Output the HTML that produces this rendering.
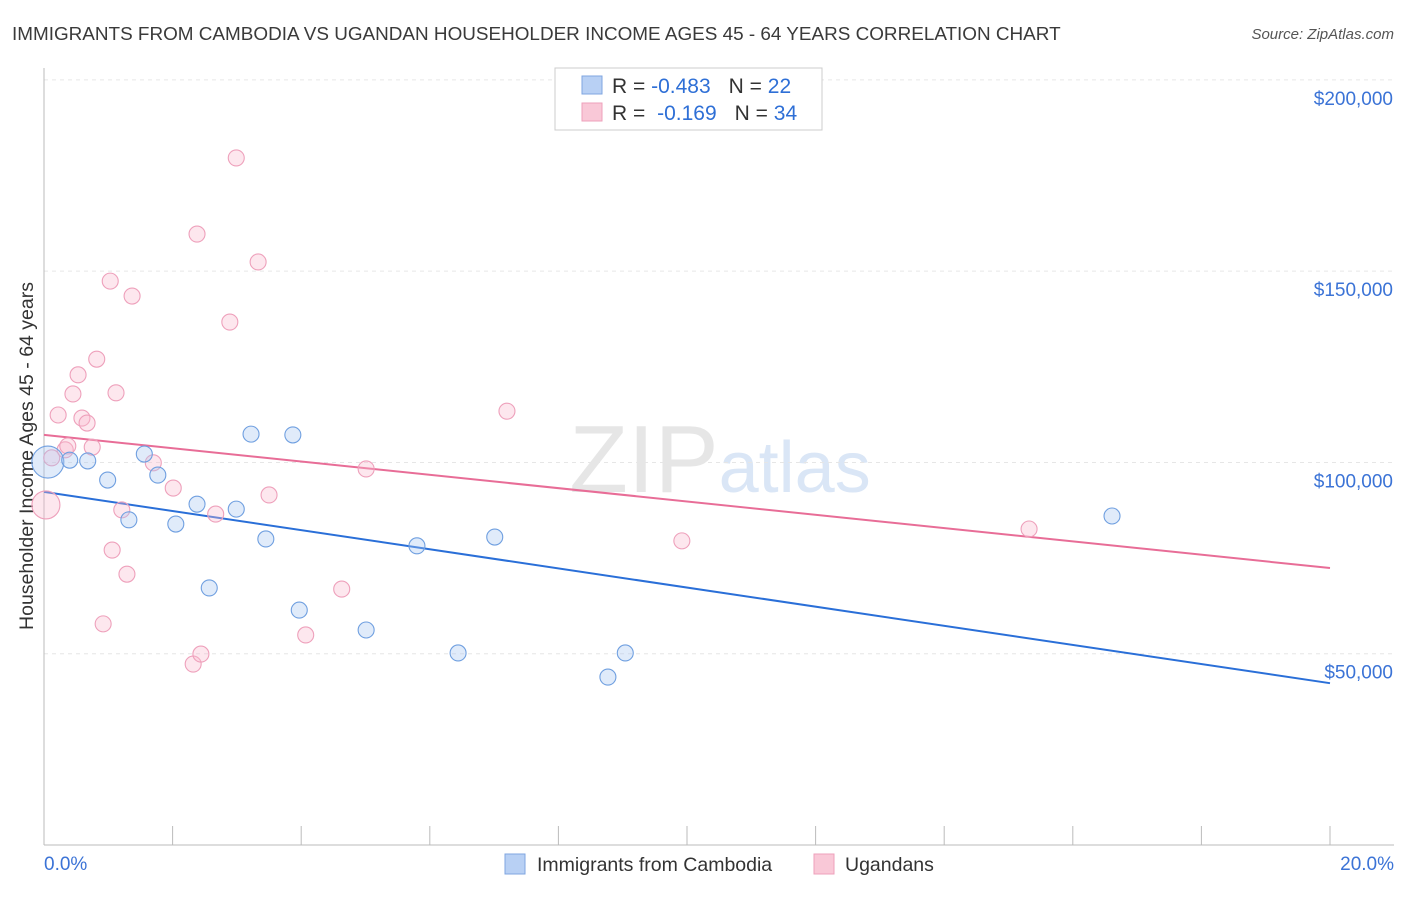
<!DOCTYPE html>
<html><head><meta charset="utf-8"><style>
body{margin:0;background:#fff;font-family:"Liberation Sans",sans-serif;}
svg text{font-family:"Liberation Sans",sans-serif;}
</style></head><body>
<svg id="chart" width="1406" height="892">
<text x="12" y="40" font-size="18.9" fill="#3a3a3a">IMMIGRANTS FROM CAMBODIA VS UGANDAN HOUSEHOLDER INCOME AGES 45 - 64 YEARS CORRELATION CHART</text>
<text x="1394" y="39" font-size="15" fill="#555" text-anchor="end" font-style="italic">Source: ZipAtlas.com</text>
<text x="33" y="456" font-size="19.5" fill="#333" text-anchor="middle" transform="rotate(-90 33 456)">Householder Income Ages 45 - 64 years</text>
<text x="720" y="492" font-size="96" fill="#e6e6e6" text-anchor="middle" font-family="Liberation Serif">ZIP<tspan fill="#dae6f6" font-family="Liberation Sans" font-size="72">atlas</tspan></text>
<g id="grid"></g><g id="axes"></g><g id="lines"></g><g id="points"></g>
<g>
<rect x="555" y="68" width="267" height="62" fill="#fff" stroke="#ccc"/>
<rect x="582" y="76" width="20" height="18" fill="#b8d0f4" stroke="#7fa6e0"/>
<text x="612" y="93" font-size="21" fill="#333">R = <tspan fill="#2e6fd6">-0.483</tspan><tspan dx="18">N = </tspan><tspan fill="#2e6fd6">22</tspan></text>
<rect x="582" y="103" width="20" height="18" fill="#f9c8d7" stroke="#eea0bb"/>
<text x="612" y="120" font-size="21" fill="#333">R = <tspan dx="6" fill="#2e6fd6">-0.169</tspan><tspan dx="18">N = </tspan><tspan fill="#2e6fd6">34</tspan></text>
</g>
<g>
<rect x="505" y="854" width="20" height="20" fill="#b8d0f4" stroke="#7fa6e0"/>
<text x="537" y="871" font-size="19.5" fill="#333">Immigrants from Cambodia</text>
<rect x="814" y="854" width="20" height="20" fill="#f9c8d7" stroke="#eea0bb"/>
<text x="845" y="871" font-size="19.5" fill="#333">Ugandans</text>
</g>
</svg>
<script>
const yTicks=[50000,100000,150000,200000];
const yTickLabels=["$50,000","$100,000","$150,000","$200,000"];
const xTicks=[0,2,4,6,8,10,12,14,16,18,20];
const blueX=[0.06,0.40,0.68,0.99,1.32,1.56,1.77,2.05,2.38,2.57,2.99,3.22,3.45,3.87,3.97,5.01,5.80,6.44,7.01,8.77,9.04,16.61];
const blueY=[100100,100600,100400,95400,85000,102200,96700,83900,89100,67200,87800,107400,80000,107200,61400,56200,78200,50200,80500,43900,50200,86000];
const pinkX=[0.03,0.12,0.22,0.33,0.37,0.45,0.53,0.59,0.67,0.75,0.82,0.92,1.03,1.06,1.12,1.21,1.29,1.37,1.70,2.01,2.32,2.38,2.44,2.67,2.89,2.99,3.33,3.50,4.07,4.63,5.01,7.20,9.92,15.32];
const pinkY=[88900,101200,112400,103300,104300,117900,122900,111600,110300,104000,127000,57800,147400,77100,118200,87600,70800,143500,99900,93300,47300,159700,49900,86500,136700,179600,152400,91500,54900,66900,98300,113400,79500,82600];
const blueTrend=[92300,42300];
const pinkTrend=[107200,72400];
const NS="http://www.w3.org/2000/svg";
const xs=v=>44+v*64.3, ys=v=>845-v/261.4;
function mk(t,a,p){const e=document.createElementNS(NS,t);for(const k in a)e.setAttribute(k,a[k]);document.getElementById(p).appendChild(e);return e;}
yTicks.forEach((t,i)=>{
 const g=mk('line',{x1:44,x2:1394,y1:ys(t),y2:ys(t),stroke:'#e6e6e6','stroke-dasharray':'4,4'},'grid');
 
 
 const l=mk('text',{x:1393,y:ys(t)+25,'font-size':19,fill:'#3b73d6','text-anchor':'end'},'axes');
 l.textContent=yTickLabels[i];
 
 
});
const ya=mk('line',{x1:44,x2:44,y1:68,y2:845,stroke:'#bbb'},'axes');


const xa=mk('line',{x1:44,x2:1394,y1:845,y2:845,stroke:'#bbb'},'axes');


xTicks.forEach(t=>{const e=mk('line',{x1:xs(t),x2:xs(t),y1:826,y2:845,stroke:'#bbb'},'axes');
 
 });
[[0,"0.0%",'start',44],[20,"20.0%",'end',1394]].forEach(d=>{const e=mk('text',{x:d[3],y:870,'font-size':19,fill:'#3b73d6','text-anchor':d[2]},'axes');e.textContent=d[1];
 
 });
const bl=mk('line',{x1:xs(0),y1:ys(blueTrend[0]),x2:xs(20),y2:ys(blueTrend[1]),stroke:'#2a6fd8','stroke-width':2},'lines');


const pl=mk('line',{x1:xs(0),y1:ys(pinkTrend[0]),x2:xs(20),y2:ys(pinkTrend[1]),stroke:'#e86d97','stroke-width':2},'lines');


pinkX.forEach((x,i)=>{const c=mk('circle',{cx:xs(x),cy:ys(pinkY[i]),r:i==0?14:8,fill:'rgba(248,185,207,0.35)',stroke:'#eea0bb','stroke-width':1.1},'points');
 
 });
blueX.forEach((x,i)=>{const c=mk('circle',{cx:xs(x),cy:ys(blueY[i]),r:i==0?16:8,fill:'rgba(165,198,242,0.35)',stroke:'#6f9fe0','stroke-width':1.1},'points');
 
 });
</script>
</body></html>
